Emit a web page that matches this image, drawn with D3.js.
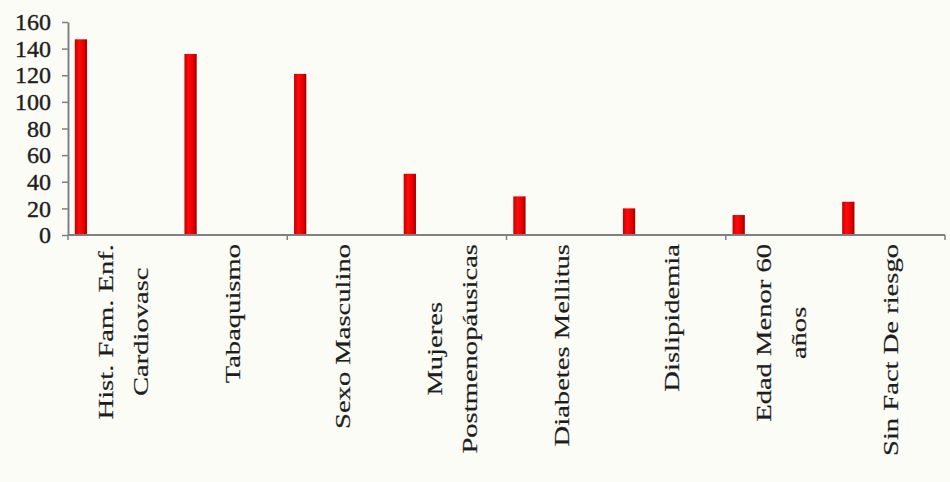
<!DOCTYPE html>
<html>
<head>
<meta charset="utf-8">
<script src="https://cdn.jsdelivr.net/npm/d3@7/dist/d3.min.js"></script>
<style>
  html, body { margin: 0; padding: 0; background: #fcfcf7; }
  svg { display: block; }
</style>
</head>
<body>
<svg id="chart" width="950" height="482"></svg>
<script>
// Data
const categories = [
  ["Hist. Fam. Enf.", "Cardiovasc"],
  ["Tabaquismo"],
  ["Sexo Masculino"],
  ["Mujeres", "Postmenopáusicas"],
  ["Diabetes Mellitus"],
  ["Dislipidemia"],
  ["Edad Menor 60", "años"],
  ["Sin Fact De riesgo"]
];
const values = [147, 136, 121, 46, 29, 20, 15, 25];
const yTicks = [0, 20, 40, 60, 80, 100, 120, 140, 160];

const svg = d3.select("#chart");
const x0 = 68, x1 = 945, yTop = 22, yBase = 235;
const serif = "'Liberation Serif', 'Times New Roman', Times, serif";

const keys = categories.map((c, i) => i);
const x = d3.scaleBand().domain(keys).range([x0, x1]).padding(0);
const y = d3.scaleLinear().domain([0, 160]).range([yBase, yTop]);
const bw = x.bandwidth();

// gradient for bars
const defs = svg.append("defs");
const grad = defs.append("linearGradient").attr("id", "barGrad")
  .attr("x1", "0%").attr("x2", "100%").attr("y1", "0%").attr("y2", "0%");
grad.append("stop").attr("offset", "0%").attr("stop-color", "#c40000");
grad.append("stop").attr("offset", "35%").attr("stop-color", "#ff0a0a");
grad.append("stop").attr("offset", "75%").attr("stop-color", "#e00000");
grad.append("stop").attr("offset", "100%").attr("stop-color", "#9a0000");

// bars
svg.append("g").selectAll("rect").data(values).join("rect")
  .attr("x", (d, i) => x(i) + bw * 0.062)
  .attr("width", bw * 0.112)
  .attr("y", d => y(d))
  .attr("height", d => y(0) - y(d))
  .attr("fill", "url(#barGrad)");

// y axis
const yAxis = svg.append("g").attr("transform", `translate(${x0},0)`)
  .call(d3.axisLeft(y).tickValues(yTicks).tickSize(6).tickPadding(11).tickSizeOuter(0));
yAxis.select(".domain").attr("stroke", "#808080").attr("stroke-width", 2);
yAxis.selectAll(".tick line").attr("stroke", "#808080").attr("stroke-width", 1.5);
yAxis.selectAll(".tick text")
  .attr("font-family", serif)
  .attr("font-size", 24).attr("fill", "#1e1e1e")
  .attr("stroke", "#1e1e1e").attr("stroke-width", 0.4);

// x axis line
svg.append("line").attr("x1", x0).attr("x2", x1).attr("y1", yBase).attr("y2", yBase)
  .attr("stroke", "#808080").attr("stroke-width", 2);

// x ticks every 2 categories
const boundaries = keys.filter(i => i % 2 === 0).map(i => x(i)).concat([x1]);
svg.append("g").selectAll("line").data(boundaries).join("line")
  .attr("x1", d => d).attr("x2", d => d)
  .attr("y1", yBase).attr("y2", yBase + 5)
  .attr("stroke", "#808080").attr("stroke-width", 1.5);

// rotated category labels
const labelTop = 244, lineGap = 35;
categories.forEach((lines, i) => {
  const cx = x(i) + bw / 2;
  const g = svg.append("g")
    .attr("transform", `translate(${cx},${labelTop}) rotate(-90) scale(1.3,1)`);
  const texts = g.selectAll("text").data(lines).join("text")
    .text(d => d)
    .attr("font-family", serif)
    .attr("font-size", 22)
    .attr("fill", "#1e1e1e")
    .attr("stroke", "#1e1e1e").attr("stroke-width", 0.2)
    .attr("text-anchor", "middle")
    .attr("y", (d, j) => (j - (lines.length - 1) / 2) * lineGap)
    .attr("dy", "0.35em");
  let maxL = 0;
  texts.each(function() { maxL = Math.max(maxL, this.getComputedTextLength()); });
  texts.attr("x", -maxL / 2);
});
</script>
</body>
</html>
